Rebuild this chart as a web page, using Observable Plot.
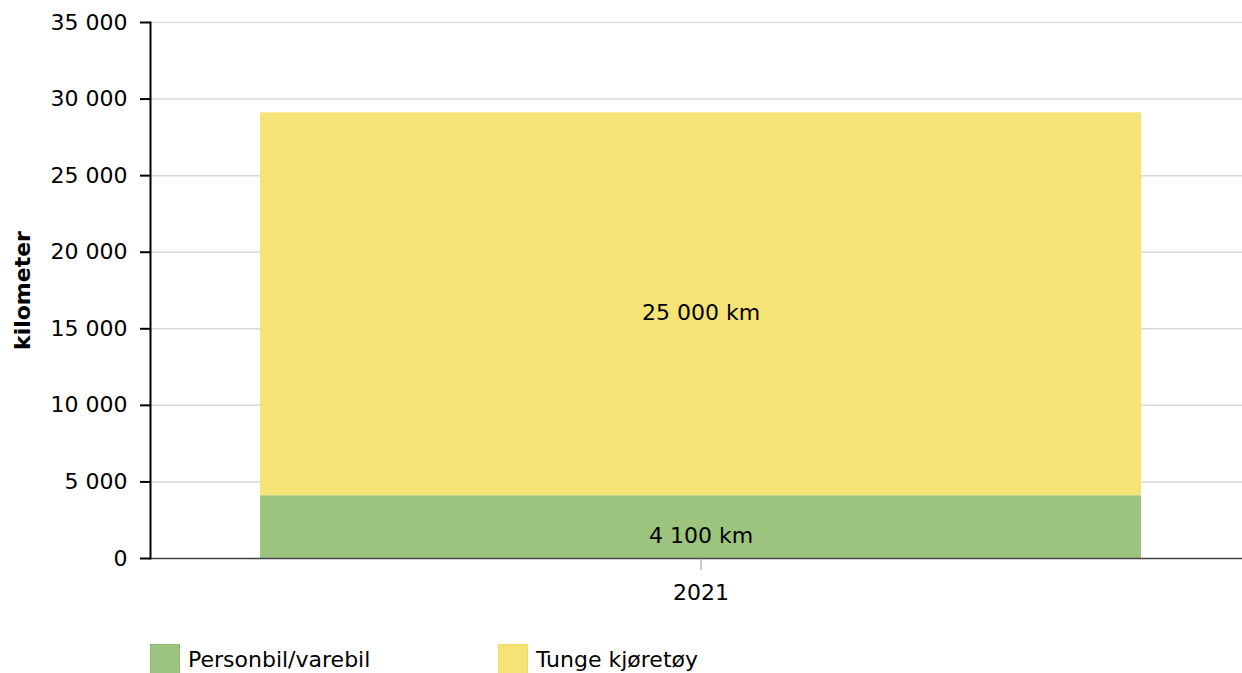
<!DOCTYPE html>
<html>
<head>
<meta charset="utf-8">
<script src="https://cdn.jsdelivr.net/npm/d3@7"></script>
<script src="https://cdn.jsdelivr.net/npm/@observablehq/plot@0.6"></script>
<style>
  html, body { margin: 0; padding: 0; background: #fff; }
  body { width: 1242px; height: 673px; overflow: hidden; font-family: "DejaVu Sans", sans-serif; }
  #legend { display: flex; margin-top: 19px; padding-left: 150px; font-size: 22px; color: #000; }
  .item { display: flex; align-items: center; width: 348px; }
  .sw { width: 30px; height: 30px; box-sizing: border-box; margin-right: 8px; }
</style>
</head>
<body>
<div id="chart"></div>
<div id="legend"></div>
<script>
const years = ["2021"];
const categories = ["Personbil/varebil", "Tunge kjøretøy"];
const values = [4100, 25000];
const valueLabels = ["4 100 km", "25 000 km"];
const colors = ["#9cc47f", "#f6e375"];
const borderColors = ["#8cba6c", "#f0dc5a"];
const yTicks = [0, 5000, 10000, 15000, 20000, 25000, 30000, 35000];
const yTitle = "kilometer";

const data = categories.map((c, i) => ({year: years[0], category: c, value: values[i], label: valueLabels[i]}));
const fmt = d => d3.format(",")(d).replace(/,/g, " ");

const chart = Plot.plot({
  width: 1242,
  height: 625,
  marginLeft: 150,
  marginRight: 0,
  marginTop: 22,
  marginBottom: 67,
  style: {fontFamily: "DejaVu Sans, sans-serif", fontSize: "22px", color: "#000", background: "#fff"},
  x: {domain: years, range: [150, 1252], padding: 0.1109, label: null},
  y: {domain: [0, 35000], label: null},
  color: {domain: categories, range: colors},
  marks: [
    Plot.ruleY(yTicks.slice(1), {stroke: "#d9d9d9", strokeWidth: 1.5}),
    Plot.barY(data, {x: "year", y: "value", fill: "category", order: categories}),
    Plot.text(data, Plot.stackY({x: "year", y: "value", z: "category", order: categories, text: "label", dy: 9, fill: "#000", fontSize: 22})),
    Plot.ruleY([0], {stroke: "#444", strokeWidth: 1.5}),
    Plot.frame({anchor: "left", stroke: "#000", strokeWidth: 2}),
    Plot.axisY({ticks: yTicks, tickFormat: fmt, tickSize: 10, tickPadding: 13, stroke: "#000", strokeWidth: 2, fontSize: 22, label: null}),
    Plot.axisX({tickSize: 12, tickPadding: 14, stroke: "#999", fontSize: 22, label: null}),
    Plot.text([yTitle], {frameAnchor: "left", textAnchor: "middle", rotate: -90, dx: -128, fontWeight: "bold", fontSize: 22, fill: "#000"})
  ]
});
document.getElementById("chart").appendChild(chart);

const legend = document.getElementById("legend");
categories.forEach((c, i) => {
  const item = document.createElement("div");
  item.className = "item";
  const sw = document.createElement("div");
  sw.className = "sw";
  sw.style.background = colors[i];
  sw.style.border = "1px solid " + borderColors[i];
  const t = document.createElement("span");
  t.textContent = c;
  item.appendChild(sw);
  item.appendChild(t);
  legend.appendChild(item);
});
</script>
</body>
</html>
